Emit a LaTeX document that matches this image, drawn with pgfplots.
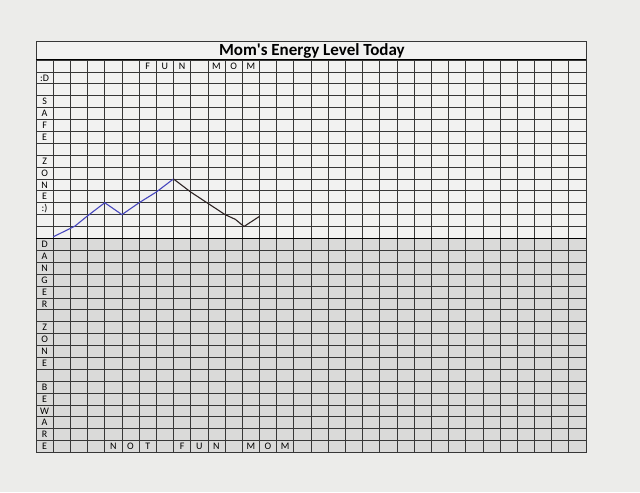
\documentclass[border=0pt]{standalone}
\usepackage{pgfplots}
\pgfplotsset{compat=1.18}
\usepackage{fontspec}
\setmainfont{Carlito}
\definecolor{paper}{RGB}{236,236,234}
\definecolor{sheet}{RGB}{242,242,241}
\definecolor{danger}{RGB}{218,218,217}
\definecolor{gridc}{RGB}{55,55,55}
\definecolor{penblue}{RGB}{70,70,190}
\definecolor{penblack}{RGB}{45,35,35}

\begin{document}
\begin{tikzpicture}
\begin{axis}[
  set layers,
  scale only axis,
  width=550pt, height=392.5pt,
  xmin=-1, xmax=31, ymin=-18, ymax=15,
  xtick={-1,0,...,31}, ytick={-18,-17,...,15},
  xticklabels={}, yticklabels={},
  major tick length=0pt,
  grid=major,
  grid style={gridc, line width=0.7pt},
  axis line style={gridc, line width=0.8pt},
  clip=false,
  every node/.append style={font=\fontsize{7.3}{8}\selectfont, text=black!85},
]
% page and sheet background
\begin{pgfonlayer}{axis background}
\fill[paper] (axis cs:-3.095,-21.363) rectangle (axis cs:34.142,20.045);
\fill[sheet] (axis cs:-1,0) rectangle (axis cs:31,16.6);
\end{pgfonlayer}
% shaded danger zone
\addplot[on layer=axis background, fill=danger, draw=none]
  coordinates {(-1,-18) (31,-18) (31,0) (-1,0)} \closedcycle;

% title box and thick lines
\draw[gridc, line width=0.8pt] (axis cs:-1,15) rectangle (axis cs:31,16.6);
\draw[black, line width=1.1pt] (axis cs:-1,0) -- (axis cs:31,0);
\draw[black, line width=1pt] (axis cs:-1,15) -- (axis cs:31,15);
\node[font=\bfseries\fontsize{17}{18}\selectfont, text=black] at (axis cs:15.05,15.8) {Mom\textquotesingle s Energy Level Today};

% energy line
\addplot[penblue, line width=1.1pt] coordinates {
  (0,0.13) (1.26,1.03) (2.03,1.93) (3,3) (4,2) (5,3) (6,3.9) (7,5)
};
\addplot[penblack, line width=1.1pt] coordinates {
  (7,5) (8,3.9) (10,2) (10.6,1.6) (11.1,1.0) (12,1.85)
};

% header letters
\node at (axis cs:5.5,14.5) {F};
\node at (axis cs:6.5,14.5) {U};
\node at (axis cs:7.5,14.5) {N};
\node at (axis cs:9.5,14.5) {M};
\node at (axis cs:10.5,14.5) {O};
\node at (axis cs:11.5,14.5) {M};
% bottom letters
\node at (axis cs:3.5,-17.5) {N};
\node at (axis cs:4.5,-17.5) {O};
\node at (axis cs:5.5,-17.5) {T};
\node at (axis cs:7.5,-17.5) {F};
\node at (axis cs:8.5,-17.5) {U};
\node at (axis cs:9.5,-17.5) {N};
\node at (axis cs:11.5,-17.5) {M};
\node at (axis cs:12.5,-17.5) {O};
\node at (axis cs:13.5,-17.5) {M};
% left column, safe zone
\node at (axis cs:-0.5,13.5) {:D};
\node at (axis cs:-0.5,11.5) {S};
\node at (axis cs:-0.5,10.5) {A};
\node at (axis cs:-0.5,9.5) {F};
\node at (axis cs:-0.5,8.5) {E};
\node at (axis cs:-0.5,6.5) {Z};
\node at (axis cs:-0.5,5.5) {O};
\node at (axis cs:-0.5,4.5) {N};
\node at (axis cs:-0.5,3.5) {E};
\node at (axis cs:-0.5,2.5) {:)};
% left column, danger zone
\node at (axis cs:-0.5,-0.5) {D};
\node at (axis cs:-0.5,-1.5) {A};
\node at (axis cs:-0.5,-2.5) {N};
\node at (axis cs:-0.5,-3.5) {G};
\node at (axis cs:-0.5,-4.5) {E};
\node at (axis cs:-0.5,-5.5) {R};
\node at (axis cs:-0.5,-7.5) {Z};
\node at (axis cs:-0.5,-8.5) {O};
\node at (axis cs:-0.5,-9.5) {N};
\node at (axis cs:-0.5,-10.5) {E};
\node at (axis cs:-0.5,-12.5) {B};
\node at (axis cs:-0.5,-13.5) {E};
\node at (axis cs:-0.5,-14.5) {W};
\node at (axis cs:-0.5,-15.5) {A};
\node at (axis cs:-0.5,-16.5) {R};
\node at (axis cs:-0.5,-17.5) {E};
\end{axis}
\end{tikzpicture}
\end{document}
